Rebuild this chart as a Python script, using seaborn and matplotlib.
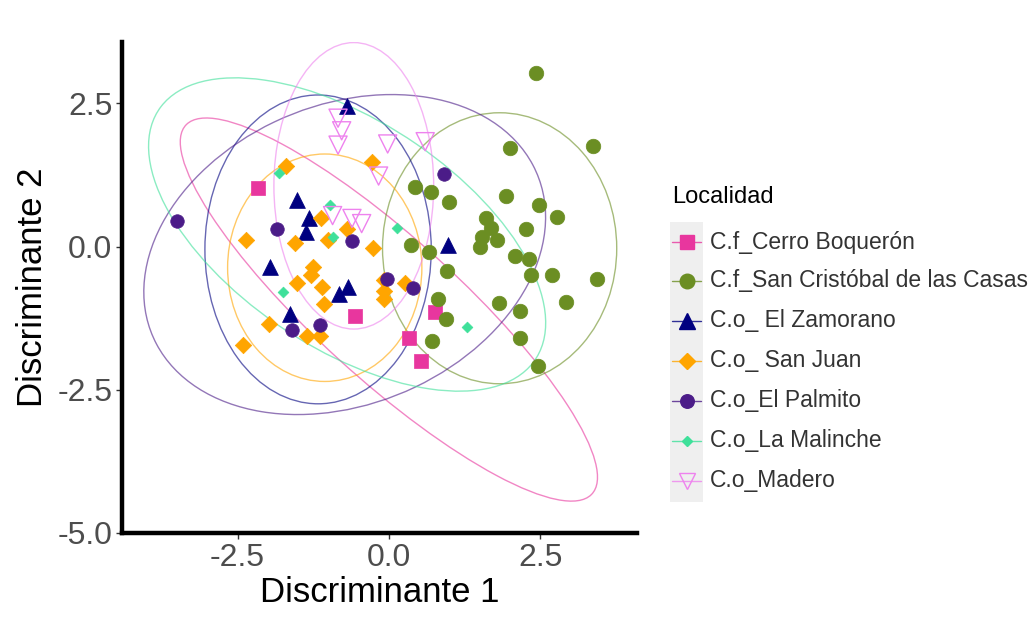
import numpy as np
import pandas as pd
import matplotlib
matplotlib.use("Agg")
import matplotlib.pyplot as plt
import seaborn as sns
from matplotlib.patches import Ellipse, Rectangle
from matplotlib.lines import Line2D

# ---------------- data ----------------
groups = ["C.f_Cerro Boquerón", "C.f_San Cristóbal de las Casas", "C.o_ El Zamorano",
          "C.o_ San Juan", "C.o_El Palmito", "C.o_La Malinche", "C.o_Madero"]

boq_x = [-2.17, -0.56, 0.76, 0.33, 0.53]
boq_y = [1.03, -1.22, -1.15, -1.60, -2.00]

sc_x = [2.43, 2.00, 3.37, 0.43, 0.69, 0.99, 1.93, 2.48, 2.78, 1.60, 1.69, 1.79, 1.54, 1.50, 2.26,
        0.36, 0.66, 0.96, 2.08, 2.31, 2.35, 2.69, 3.44, 0.81, 0.94, 1.82, 2.17, 2.93, 0.71, 2.17, 2.46]
sc_y = [3.03, 1.72, 1.76, 1.04, 0.96, 0.78, 0.89, 0.73, 0.52, 0.50, 0.33, 0.12, 0.17, 0.00, 0.31,
        0.03, -0.09, -0.42, -0.17, -0.21, -0.50, -0.50, -0.57, -0.92, -1.27, -0.99, -1.13, -0.96, -1.65, -1.60, -2.09]

zam_x = [-0.69, -1.52, -1.32, -1.37, -1.97, -1.64, -0.68, -0.83, 0.98]
zam_y = [2.45, 0.82, 0.50, 0.26, -0.35, -1.18, -0.70, -0.82, 0.03]

sj_x = [-1.70, -0.28, -2.36, -1.55, -1.12, -0.69, -1.01, -0.26, -1.26, -1.29, -1.52, -1.11, -1.07,
        -1.98, -2.41, -1.36, -1.14, -0.08, -0.08, -0.08, 0.26]
sj_y = [1.41, 1.48, 0.12, 0.07, 0.50, 0.30, 0.12, -0.02, -0.35, -0.50, -0.64, -0.70, -1.01,
        -1.36, -1.72, -1.57, -1.57, -0.59, -0.77, -0.92, -0.63]

pal_x = [-3.50, -1.85, -0.61, 0.91, -1.60, -1.14, 0.40, -0.03]
pal_y = [0.45, 0.31, 0.09, 1.27, -1.46, -1.37, -0.73, -0.56]

mal_x = [-1.82, -0.98, -0.93, 0.13, -1.75, 1.29]
mal_y = [1.29, 0.73, 0.17, 0.33, -0.80, -1.41]

mad_x = [-0.84, -0.78, -0.84, -0.02, 0.60, -0.17, -0.93, -0.61, -0.45]
mad_y = [2.24, 2.02, 1.77, 1.79, 1.83, 1.23, 0.54, 0.49, 0.40]

# 95% ellipses (center, full width, full height, angle in degrees), one per group
ell_cx = [0.00, 1.83, -1.17, -1.06, -0.73, -0.69, -0.58]
ell_cy = [-1.10, -0.03, -0.05, -0.37, -0.14, 0.21, 1.06]
ell_w = [9.30, 3.87, 3.74, 3.21, 6.96, 7.60, 2.64]
ell_h = [2.40, 4.73, 5.39, 3.97, 5.18, 3.90, 5.00]
ell_ang = [-44.0, 0.0, 0.0, 0.0, 26.7, -36.0, 0.0]

x_ticks = [-2.5, 0.0, 2.5]
y_ticks = [-5.0, -2.5, 0.0, 2.5]

xs_all = [boq_x, sc_x, zam_x, sj_x, pal_x, mal_x, mad_x]
ys_all = [boq_y, sc_y, zam_y, sj_y, pal_y, mal_y, mad_y]

df = pd.concat([pd.DataFrame({"LD1": x, "LD2": y, "Localidad": g})
                for g, x, y in zip(groups, xs_all, ys_all)], ignore_index=True)

# ---------------- style ----------------
colors = ["#E8369E", "#6B8E23", "#000080", "#FFA500", "#4B1C88", "#3EE09A", "#EE82EE"]
markers = ["s", "o", "^", "D", "o", "D", "v"]
sizes = [105, 110, 130, 70, 95, 30, 170]

sns.set_theme(style="white")
plt.rcParams["font.family"] = ["Liberation Sans", "DejaVu Sans"]

W, H = 1035, 619
fig = plt.figure(figsize=(W / 100, H / 100), dpi=100)
ax = fig.add_axes([122 / W, 1 - 533 / H, (637 - 122) / W, (533 - 42) / H])

# ellipses
for i in range(len(groups)):
    e = Ellipse((ell_cx[i], ell_cy[i]), ell_w[i], ell_h[i], angle=ell_ang[i],
                fill=False, edgecolor=colors[i], lw=1.0, alpha=0.6, zorder=2)
    ax.add_patch(e)

# points
for i, g in enumerate(groups):
    sub = df[df["Localidad"] == g]
    if markers[i] == "v":
        sns.scatterplot(data=sub, x="LD1", y="LD2", ax=ax, marker="v", s=sizes[i],
                        color=colors[i], facecolor="none", edgecolor=colors[i],
                        linewidth=1.0, legend=False, zorder=3)
    else:
        sns.scatterplot(data=sub, x="LD1", y="LD2", ax=ax, marker=markers[i], s=sizes[i],
                        color=colors[i], edgecolor=colors[i], linewidth=0.5,
                        legend=False, zorder=3)

ax.set_xlim(-4.41, 4.10)
ax.set_ylim(-5.0, 3.57)
ax.set_xticks(x_ticks)
ax.set_yticks(y_ticks)
ax.set_xticklabels([f"{v:.1f}" for v in x_ticks])
ax.set_yticklabels([f"{v:.1f}" for v in y_ticks])
ax.tick_params(axis="both", which="major", direction="out", length=4, width=1,
               color="#333333", labelsize=23, labelcolor="#4D4D4D", pad=3,
               bottom=True, left=True)
for s in ["top", "right"]:
    ax.spines[s].set_visible(False)
for s in ["left", "bottom"]:
    ax.spines[s].set_color("black")
    ax.spines[s].set_linewidth(3.2)
ax.set_xlabel("Discriminante 1", fontsize=25, color="black", labelpad=2)
ax.set_ylabel("Discriminante 2", fontsize=25, color="black", labelpad=6)
ax.set_facecolor("white")

# ---------------- legend (manual, ggplot style) ----------------
def fx(px):
    return px / W

def fy(py):
    return 1 - py / H

fig.text(fx(672), fy(197), "Localidad", fontsize=17, color="black", va="center", ha="left")
leg_y = [242, 281, 321, 361, 401, 441, 481]
fig.add_artist(Rectangle((fx(670), fy(502)), fx(703) - fx(670), fy(222) - fy(502),
                         transform=fig.transFigure, facecolor="#EFEFEF", edgecolor="none", zorder=1))
for i, g in enumerate(groups):
    y = leg_y[i]
    fig.add_artist(Line2D([fx(672), fx(701)], [fy(y), fy(y)], transform=fig.transFigure,
                          color=colors[i], lw=1.0, alpha=0.8, zorder=2))
    if markers[i] == "v":
        fig.add_artist(Line2D([fx(686.5)], [fy(y)], transform=fig.transFigure, marker="v",
                              markersize=12, markerfacecolor="none", markeredgecolor=colors[i],
                              markeredgewidth=1.0, linestyle="none", zorder=3))
    else:
        fig.add_artist(Line2D([fx(686.5)], [fy(y)], transform=fig.transFigure, marker=markers[i],
                              markersize=np.sqrt(sizes[i]), markerfacecolor=colors[i],
                              markeredgecolor=colors[i], linestyle="none", zorder=3))
    fig.text(fx(710), fy(y), g, fontsize=16.5, color="#333333", va="center", ha="left")

fig.savefig("out.png", dpi=100, facecolor="white")
